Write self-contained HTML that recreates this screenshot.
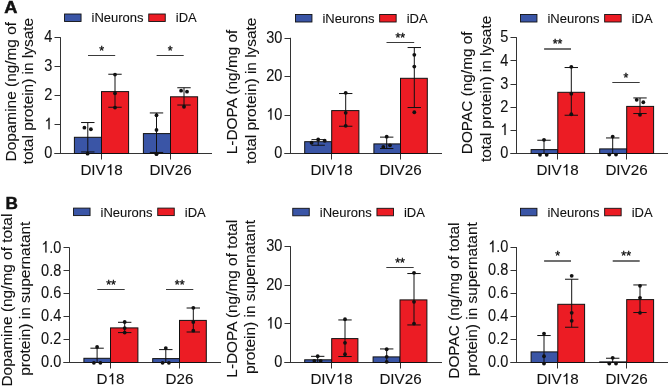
<!DOCTYPE html>
<html><head><meta charset="utf-8"><style>
html,body{margin:0;padding:0;background:#fff;width:669px;height:387px;overflow:hidden}
svg{display:block;will-change:transform}
text{font-family:"Liberation Sans",sans-serif;fill:#111;stroke:#111;stroke-width:0.1px}
</style></head><body>
<svg width="669" height="387" viewBox="0 0 669 387">
<rect width="669" height="387" fill="#fff"/>
<text transform="translate(4.3,12.5) scale(1.1,1)" font-size="16.6" font-weight="bold" style="stroke-width:0.5px">A</text>
<text x="5.4" y="208.7" font-size="17.2" font-weight="bold" style="stroke-width:0.45px">B</text>
<path d="M60.5 37.2V153.5M54.5 153.5H212.0" stroke="#333" fill="none"/>
<path d="M54.5 153.5H60.5" stroke="#333"/>
<text transform="translate(52.3,158.2) scale(0.97,1.08)" text-anchor="end" font-size="15">0</text>
<path d="M54.5 124.5H60.5" stroke="#333"/>
<text id="t1" transform="translate(52.3,129.25) scale(0.97,1.08)" text-anchor="end" font-size="15"> </text>
<g transform="translate(52.3,129.25) scale(0.97,1.08)"><path d="M-2.72 0.00L-4.04 0.00L-4.04 -8.33C-4.52 -7.91 -5.34 -7.46 -6.47 -7.17L-6.47 -8.18C-5.27 -8.58 -4.37 -9.38 -3.84 -10.74L-2.72 -10.74Z" fill="#111" stroke="#111" stroke-width="0.1"/></g>
<path d="M54.5 95.5H60.5" stroke="#333"/>
<text transform="translate(52.3,100.3) scale(0.97,1.08)" text-anchor="end" font-size="15">2</text>
<path d="M54.5 66.5H60.5" stroke="#333"/>
<text transform="translate(52.3,71.35000000000001) scale(0.97,1.08)" text-anchor="end" font-size="15">3</text>
<path d="M54.5 37.5H60.5" stroke="#333"/>
<text transform="translate(52.3,42.400000000000006) scale(0.97,1.08)" text-anchor="end" font-size="15">4</text>
<path d="M101.5 153.5V159.5" stroke="#333"/>
<text id="t5" x="101.5" y="175.2" text-anchor="middle" font-size="15.2">DIV 8</text>
<path d="M111.40 175.20L110.07 175.20L110.07 166.76C109.58 167.19 108.74 167.65 107.60 167.93L107.60 166.92C108.82 166.51 109.73 165.70 110.26 164.32L111.40 164.32Z" fill="#111" stroke="#111" stroke-width="0.1"/>
<path d="M170.5 153.5V159.5" stroke="#333"/>
<text x="170.5" y="175.2" text-anchor="middle" font-size="15.2">DIV26</text>
<text transform="translate(15.6,91.7) rotate(-90)" text-anchor="middle" font-size="15.4">Dopamine (ng/mg of</text>
<text transform="translate(33.3,91.1) rotate(-90)" text-anchor="middle" font-size="15.4">total protein) in lysate</text>
<rect x="64.55" y="14" width="16.5" height="7.5" fill="#3a55a6" stroke="#111" stroke-width="0.9"/>
<text x="91.55" y="22.4" font-size="13">iNeurons</text>
<rect x="148.75" y="14" width="16.5" height="7.5" fill="#ec1c24" stroke="#111" stroke-width="0.9"/>
<text x="175.75" y="22.4" font-size="13">iDA</text>
<rect x="74.4" y="137.29999999999998" width="27.099999999999994" height="16.200000000000017" fill="#3a55a6" stroke="#111" stroke-width="1"/>
<rect x="101.5" y="91.6" width="27.099999999999994" height="61.900000000000006" fill="#ec1c24" stroke="#111" stroke-width="1"/>
<rect x="143.4" y="133.6" width="27.099999999999994" height="19.900000000000006" fill="#3a55a6" stroke="#111" stroke-width="1"/>
<rect x="170.5" y="96.8" width="27.099999999999994" height="56.7" fill="#ec1c24" stroke="#111" stroke-width="1"/>
<path d="M87.8 122.53999999999999V151.94M81.1 122.53999999999999H94.5" stroke="#111"/>
<path d="M81.1 151.94H94.5" stroke="#111"/>
<path d="M115 74.24V107.24M108.3 74.24H121.7" stroke="#111"/>
<path d="M108.3 107.24H121.7" stroke="#111"/>
<path d="M156.5 112.94V152.44M149.8 112.94H163.2" stroke="#111"/>
<path d="M149.8 152.44H163.2" stroke="#111"/>
<path d="M184 87.74V105.03999999999999M177.3 87.74H190.7" stroke="#111"/>
<path d="M177.3 105.03999999999999H190.7" stroke="#111"/>
<circle cx="84.4" cy="127.64" r="1.9" fill="#111"/>
<circle cx="90.9" cy="129.23999999999998" r="1.9" fill="#111"/>
<circle cx="87.6" cy="153.64" r="1.9" fill="#111"/>
<circle cx="115" cy="74.54" r="1.9" fill="#111"/>
<circle cx="115" cy="93.24000000000001" r="1.9" fill="#111"/>
<circle cx="115" cy="107.54" r="1.9" fill="#111"/>
<circle cx="156.5" cy="115.24000000000001" r="1.9" fill="#111"/>
<circle cx="156.5" cy="129.94" r="1.9" fill="#111"/>
<circle cx="156.5" cy="154.14" r="1.9" fill="#111"/>
<circle cx="181.1" cy="90.64" r="1.9" fill="#111"/>
<circle cx="187" cy="91.64" r="1.9" fill="#111"/>
<circle cx="184" cy="106.74000000000001" r="1.9" fill="#111"/>
<path d="M88 55.5H115.2" stroke="#3a3a3a" stroke-width="1"/>
<text x="101.6" y="54.6" text-anchor="middle" font-size="12.4" style="stroke-width:0.35px">*</text>
<path d="M156.6 55.5H183.7" stroke="#3a3a3a" stroke-width="1"/>
<text x="170.14999999999998" y="54.6" text-anchor="middle" font-size="12.4" style="stroke-width:0.35px">*</text>
<path d="M290.5 37.80000000000001V153.5M284.5 153.5H442.0" stroke="#333" fill="none"/>
<path d="M284.5 153.5H290.5" stroke="#333"/>
<text transform="translate(282.3,158.2) scale(0.97,1.08)" text-anchor="end" font-size="15">0</text>
<path d="M284.5 115.5H290.5" stroke="#333"/>
<text id="t8" transform="translate(282.3,119.8) scale(0.97,1.08)" text-anchor="end" font-size="15"> 0</text>
<g transform="translate(282.3,119.8) scale(0.97,1.08)"><path d="M-11.04 0.00L-12.36 0.00L-12.36 -8.33C-12.84 -7.91 -13.67 -7.46 -14.79 -7.17L-14.79 -8.18C-13.59 -8.58 -12.69 -9.38 -12.17 -10.74L-11.04 -10.74Z" fill="#111" stroke="#111" stroke-width="0.1"/></g>
<path d="M284.5 76.5H290.5" stroke="#333"/>
<text transform="translate(282.3,81.4) scale(0.97,1.08)" text-anchor="end" font-size="15">20</text>
<path d="M284.5 38.5H290.5" stroke="#333"/>
<text transform="translate(282.3,43.000000000000014) scale(0.97,1.08)" text-anchor="end" font-size="15">30</text>
<path d="M331.5 153.5V159.5" stroke="#333"/>
<text id="t11" x="331.5" y="175.2" text-anchor="middle" font-size="15.2">DIV 8</text>
<path d="M341.40 175.20L340.07 175.20L340.07 166.76C339.58 167.19 338.74 167.65 337.60 167.93L337.60 166.92C338.82 166.51 339.73 165.70 340.26 164.32L341.40 164.32Z" fill="#111" stroke="#111" stroke-width="0.1"/>
<path d="M400.5 153.5V159.5" stroke="#333"/>
<text x="400.5" y="175.2" text-anchor="middle" font-size="15.2">DIV26</text>
<text transform="translate(237.2,91.9) rotate(-90)" text-anchor="middle" font-size="15.4">L-DOPA (ng/mg of</text>
<text transform="translate(255.6,90.8) rotate(-90)" text-anchor="middle" font-size="15.4">total protein) in lysate</text>
<rect x="295.45" y="14.5" width="16.5" height="7.5" fill="#3a55a6" stroke="#111" stroke-width="0.9"/>
<text x="322.45" y="22.9" font-size="13">iNeurons</text>
<rect x="379.65" y="14.5" width="16.5" height="7.5" fill="#ec1c24" stroke="#111" stroke-width="0.9"/>
<text x="406.65" y="22.9" font-size="13">iDA</text>
<rect x="304.7" y="141.7" width="27.0" height="11.800000000000011" fill="#3a55a6" stroke="#111" stroke-width="1"/>
<rect x="331.7" y="110.6" width="27.200000000000045" height="42.900000000000006" fill="#ec1c24" stroke="#111" stroke-width="1"/>
<rect x="373.9" y="143.9" width="26.600000000000023" height="9.599999999999994" fill="#3a55a6" stroke="#111" stroke-width="1"/>
<rect x="400.5" y="78.3" width="26.80000000000001" height="75.2" fill="#ec1c24" stroke="#111" stroke-width="1"/>
<path d="M318.2 139.64000000000001V145.24M311.5 139.64000000000001H324.9" stroke="#111"/>
<path d="M311.5 145.24H324.9" stroke="#111"/>
<path d="M345.7 93.53999999999999V126.24M339.0 93.53999999999999H352.4" stroke="#111"/>
<path d="M339.0 126.24H352.4" stroke="#111"/>
<path d="M386.7 137.14000000000001V148.54000000000002M380.0 137.14000000000001H393.4" stroke="#111"/>
<path d="M380.0 148.54000000000002H393.4" stroke="#111"/>
<path d="M414.3 47.54V107.53999999999999M407.6 47.54H421.0" stroke="#111"/>
<path d="M407.6 107.53999999999999H421.0" stroke="#111"/>
<circle cx="311.6" cy="142.73999999999998" r="1.9" fill="#111"/>
<circle cx="318.2" cy="139.44" r="1.9" fill="#111"/>
<circle cx="324.7" cy="140.73999999999998" r="1.9" fill="#111"/>
<circle cx="345.7" cy="92.84" r="1.9" fill="#111"/>
<circle cx="345.7" cy="112.84" r="1.9" fill="#111"/>
<circle cx="345.7" cy="125.84" r="1.9" fill="#111"/>
<circle cx="386.7" cy="136.64" r="1.9" fill="#111"/>
<circle cx="383.3" cy="146.94" r="1.9" fill="#111"/>
<circle cx="390" cy="145.34" r="1.9" fill="#111"/>
<circle cx="414.3" cy="54.839999999999996" r="1.9" fill="#111"/>
<circle cx="414.3" cy="66.54" r="1.9" fill="#111"/>
<circle cx="414.3" cy="112.24000000000001" r="1.9" fill="#111"/>
<path d="M386.5 42.5H414.2" stroke="#3a3a3a" stroke-width="1"/>
<text x="400.35" y="41.6" text-anchor="middle" font-size="12.4" style="stroke-width:0.35px">**</text>
<path d="M516.5 37.2V153.5M510.5 153.5H668.0" stroke="#333" fill="none"/>
<path d="M510.5 153.5H516.5" stroke="#333"/>
<text transform="translate(508.3,158.2) scale(0.97,1.08)" text-anchor="end" font-size="15">0</text>
<path d="M510.5 130.5H516.5" stroke="#333"/>
<text id="t14" transform="translate(508.3,135.04) scale(0.97,1.08)" text-anchor="end" font-size="15"> </text>
<g transform="translate(508.3,135.04) scale(0.97,1.08)"><path d="M-2.72 0.00L-4.04 0.00L-4.04 -8.33C-4.52 -7.91 -5.34 -7.46 -6.47 -7.17L-6.47 -8.18C-5.27 -8.58 -4.37 -9.38 -3.84 -10.74L-2.72 -10.74Z" fill="#111" stroke="#111" stroke-width="0.1"/></g>
<path d="M510.5 107.5H516.5" stroke="#333"/>
<text transform="translate(508.3,111.88000000000001) scale(0.97,1.08)" text-anchor="end" font-size="15">2</text>
<path d="M510.5 84.5H516.5" stroke="#333"/>
<text transform="translate(508.3,88.72) scale(0.97,1.08)" text-anchor="end" font-size="15">3</text>
<path d="M510.5 60.5H516.5" stroke="#333"/>
<text transform="translate(508.3,65.56) scale(0.97,1.08)" text-anchor="end" font-size="15">4</text>
<path d="M510.5 37.5H516.5" stroke="#333"/>
<text transform="translate(508.3,42.400000000000006) scale(0.97,1.08)" text-anchor="end" font-size="15">5</text>
<path d="M557.5 153.5V159.5" stroke="#333"/>
<text id="t19" x="557.5" y="175.2" text-anchor="middle" font-size="15.2">DIV 8</text>
<path d="M567.40 175.20L566.07 175.20L566.07 166.76C565.58 167.19 564.74 167.65 563.60 167.93L563.60 166.92C564.82 166.51 565.73 165.70 566.26 164.32L567.40 164.32Z" fill="#111" stroke="#111" stroke-width="0.1"/>
<path d="M626.5 153.5V159.5" stroke="#333"/>
<text x="626.5" y="175.2" text-anchor="middle" font-size="15.2">DIV26</text>
<text transform="translate(472,92.8) rotate(-90)" text-anchor="middle" font-size="15.4">DOPAC (ng/mg of</text>
<text transform="translate(490.6,88.9) rotate(-90)" text-anchor="middle" font-size="15.4">total protein) in lysate</text>
<rect x="520.45" y="14.5" width="16.5" height="7.5" fill="#3a55a6" stroke="#111" stroke-width="0.9"/>
<text x="547.45" y="22.9" font-size="13">iNeurons</text>
<rect x="604.6500000000001" y="14.5" width="16.5" height="7.5" fill="#ec1c24" stroke="#111" stroke-width="0.9"/>
<text x="631.6500000000001" y="22.9" font-size="13">iDA</text>
<rect x="531.1" y="149.6" width="26.699999999999932" height="3.9000000000000057" fill="#3a55a6" stroke="#111" stroke-width="1"/>
<rect x="557.8" y="92.3" width="26.800000000000068" height="61.2" fill="#ec1c24" stroke="#111" stroke-width="1"/>
<rect x="599.6999999999999" y="148.9" width="27.000000000000114" height="4.599999999999994" fill="#3a55a6" stroke="#111" stroke-width="1"/>
<rect x="626.7" y="106.39999999999999" width="26.899999999999977" height="47.10000000000001" fill="#ec1c24" stroke="#111" stroke-width="1"/>
<path d="M544 140.24V153.5M537.3 140.24H550.7" stroke="#111"/>
<path d="M571.3 67.53999999999999V115.24M564.5999999999999 67.53999999999999H578.0" stroke="#111"/>
<path d="M564.5999999999999 115.24H578.0" stroke="#111"/>
<path d="M612.7 137.94V153.5M606.0 137.94H619.4000000000001" stroke="#111"/>
<path d="M640 97.94V113.53999999999999M633.3 97.94H646.7" stroke="#111"/>
<path d="M633.3 113.53999999999999H646.7" stroke="#111"/>
<circle cx="544" cy="139.84" r="1.9" fill="#111"/>
<circle cx="540" cy="154.84" r="1.9" fill="#111"/>
<circle cx="546.7" cy="154.84" r="1.9" fill="#111"/>
<circle cx="571.3" cy="66.84" r="1.9" fill="#111"/>
<circle cx="571.3" cy="93.74000000000001" r="1.9" fill="#111"/>
<circle cx="571.3" cy="114.24000000000001" r="1.9" fill="#111"/>
<circle cx="612.7" cy="136.54" r="1.9" fill="#111"/>
<circle cx="609.3" cy="154.54" r="1.9" fill="#111"/>
<circle cx="616" cy="154.54" r="1.9" fill="#111"/>
<circle cx="636.7" cy="99.84" r="1.9" fill="#111"/>
<circle cx="643.3" cy="102.24000000000001" r="1.9" fill="#111"/>
<circle cx="640" cy="114.84" r="1.9" fill="#111"/>
<path d="M544.1 49H571" stroke="#1a1a1a" stroke-width="1.25"/>
<text x="557.55" y="48.1" text-anchor="middle" font-size="12.4" style="stroke-width:0.35px">**</text>
<path d="M612.3 82.5H639.7" stroke="#3a3a3a" stroke-width="1"/>
<text x="626.0" y="81.6" text-anchor="middle" font-size="12.4" style="stroke-width:0.35px">*</text>
<path d="M69.5 247.4V362.5M63.5 362.5H221.0" stroke="#333" fill="none"/>
<path d="M63.5 362.5H69.5" stroke="#333"/>
<text transform="translate(61.3,367.2) scale(0.97,1.08)" text-anchor="end" font-size="15">0.0</text>
<path d="M63.5 339.5H69.5" stroke="#333"/>
<text transform="translate(61.3,344.28) scale(0.97,1.08)" text-anchor="end" font-size="15">0.2</text>
<path d="M63.5 316.5H69.5" stroke="#333"/>
<text transform="translate(61.3,321.35999999999996) scale(0.97,1.08)" text-anchor="end" font-size="15">0.4</text>
<path d="M63.5 293.5H69.5" stroke="#333"/>
<text transform="translate(61.3,298.44) scale(0.97,1.08)" text-anchor="end" font-size="15">0.6</text>
<path d="M63.5 270.5H69.5" stroke="#333"/>
<text transform="translate(61.3,275.52) scale(0.97,1.08)" text-anchor="end" font-size="15">0.8</text>
<path d="M63.5 247.5H69.5" stroke="#333"/>
<text id="t26" transform="translate(61.3,252.6) scale(0.97,1.08)" text-anchor="end" font-size="15"> .0</text>
<g transform="translate(61.3,252.6) scale(0.97,1.08)"><path d="M-15.20 0.00L-16.52 0.00L-16.52 -8.33C-17.00 -7.91 -17.82 -7.46 -18.95 -7.17L-18.95 -8.18C-17.75 -8.58 -16.85 -9.38 -16.32 -10.74L-15.20 -10.74Z" fill="#111" stroke="#111" stroke-width="0.1"/></g>
<path d="M110.5 362.5V368.5" stroke="#333"/>
<text id="t27" x="110.5" y="384.2" text-anchor="middle" font-size="15.2">D 8</text>
<path d="M113.22 384.20L111.88 384.20L111.88 375.76C111.39 376.19 110.56 376.65 109.42 376.93L109.42 375.92C110.63 375.51 111.54 374.70 112.08 373.32L113.22 373.32Z" fill="#111" stroke="#111" stroke-width="0.1"/>
<path d="M179.5 362.5V368.5" stroke="#333"/>
<text x="179.5" y="384.2" text-anchor="middle" font-size="15.2">D26</text>
<text transform="translate(12.2,300.1) rotate(-90)" text-anchor="middle" font-size="15.4">Dopamine (ng/mg of total</text>
<text transform="translate(30,298.7) rotate(-90)" text-anchor="middle" font-size="15.4">protein) in supernatant</text>
<rect x="73.55" y="208.1" width="16.5" height="7.5" fill="#3a55a6" stroke="#111" stroke-width="0.9"/>
<text x="100.55" y="216.5" font-size="13">iNeurons</text>
<rect x="157.75" y="208.1" width="16.5" height="7.5" fill="#ec1c24" stroke="#111" stroke-width="0.9"/>
<text x="184.75" y="216.5" font-size="13">iDA</text>
<rect x="83.9" y="358.3" width="26.599999999999994" height="4.199999999999989" fill="#3a55a6" stroke="#111" stroke-width="1"/>
<rect x="110.5" y="327.9" width="27.400000000000006" height="34.60000000000002" fill="#ec1c24" stroke="#111" stroke-width="1"/>
<rect x="152.70000000000002" y="358.6" width="26.799999999999983" height="3.8999999999999773" fill="#3a55a6" stroke="#111" stroke-width="1"/>
<rect x="179.5" y="320.4" width="26.799999999999983" height="42.10000000000002" fill="#ec1c24" stroke="#111" stroke-width="1"/>
<path d="M97.1 348.2V362.5M90.39999999999999 348.2H103.8" stroke="#111"/>
<path d="M124.7 322.3V332.6M118.0 322.3H131.4" stroke="#111"/>
<path d="M118.0 332.6H131.4" stroke="#111"/>
<path d="M165.8 349.6V362.5M159.10000000000002 349.6H172.5" stroke="#111"/>
<path d="M193.3 308.0V332.0M186.60000000000002 308.0H200.0" stroke="#111"/>
<path d="M186.60000000000002 332.0H200.0" stroke="#111"/>
<circle cx="97.1" cy="346.9" r="1.9" fill="#111"/>
<circle cx="93.9" cy="362.8" r="1.9" fill="#111"/>
<circle cx="100.4" cy="362.8" r="1.9" fill="#111"/>
<circle cx="124.7" cy="322.0" r="1.9" fill="#111"/>
<circle cx="124.7" cy="328.1" r="1.9" fill="#111"/>
<circle cx="124.7" cy="332.6" r="1.9" fill="#111"/>
<circle cx="165.8" cy="348.1" r="1.9" fill="#111"/>
<circle cx="162.6" cy="362.8" r="1.9" fill="#111"/>
<circle cx="168.9" cy="362.8" r="1.9" fill="#111"/>
<circle cx="193.3" cy="307.8" r="1.9" fill="#111"/>
<circle cx="193.3" cy="322.0" r="1.9" fill="#111"/>
<circle cx="193.3" cy="330.7" r="1.9" fill="#111"/>
<path d="M97.3 289.5H124.7" stroke="#3a3a3a" stroke-width="1"/>
<text x="111.0" y="288.6" text-anchor="middle" font-size="12.4" style="stroke-width:0.35px">**</text>
<path d="M166 289.5H193.3" stroke="#3a3a3a" stroke-width="1"/>
<text x="179.65" y="288.6" text-anchor="middle" font-size="12.4" style="stroke-width:0.35px">**</text>
<path d="M290.5 246.2V362.5M284.5 362.5H442.0" stroke="#333" fill="none"/>
<path d="M284.5 362.5H290.5" stroke="#333"/>
<text transform="translate(282.3,367.2) scale(0.97,1.08)" text-anchor="end" font-size="15">0</text>
<path d="M284.5 323.5H290.5" stroke="#333"/>
<text id="t30" transform="translate(282.3,328.59999999999997) scale(0.97,1.08)" text-anchor="end" font-size="15"> 0</text>
<g transform="translate(282.3,328.59999999999997) scale(0.97,1.08)"><path d="M-11.04 0.00L-12.36 0.00L-12.36 -8.33C-12.84 -7.91 -13.67 -7.46 -14.79 -7.17L-14.79 -8.18C-13.59 -8.58 -12.69 -9.38 -12.17 -10.74L-11.04 -10.74Z" fill="#111" stroke="#111" stroke-width="0.1"/></g>
<path d="M284.5 285.5H290.5" stroke="#333"/>
<text transform="translate(282.3,290.0) scale(0.97,1.08)" text-anchor="end" font-size="15">20</text>
<path d="M284.5 246.5H290.5" stroke="#333"/>
<text transform="translate(282.3,251.39999999999998) scale(0.97,1.08)" text-anchor="end" font-size="15">30</text>
<path d="M331.5 362.5V368.5" stroke="#333"/>
<text id="t33" x="331.5" y="384.2" text-anchor="middle" font-size="15.2">DIV 8</text>
<path d="M341.40 384.20L340.07 384.20L340.07 375.76C339.58 376.19 338.74 376.65 337.60 376.93L337.60 375.92C338.82 375.51 339.73 374.70 340.26 373.32L341.40 373.32Z" fill="#111" stroke="#111" stroke-width="0.1"/>
<path d="M400.5 362.5V368.5" stroke="#333"/>
<text x="400.5" y="384.2" text-anchor="middle" font-size="15.2">DIV26</text>
<text transform="translate(237.2,298.7) rotate(-90)" text-anchor="middle" font-size="15.4">L-DOPA (ng/mg of total</text>
<text transform="translate(255.3,297) rotate(-90)" text-anchor="middle" font-size="15.4">protein) in supernatant</text>
<rect x="292.75" y="208.3" width="16.5" height="7.5" fill="#3a55a6" stroke="#111" stroke-width="0.9"/>
<text x="319.75" y="216.70000000000002" font-size="13">iNeurons</text>
<rect x="376.95" y="208.3" width="16.5" height="7.5" fill="#ec1c24" stroke="#111" stroke-width="0.9"/>
<text x="403.95" y="216.70000000000002" font-size="13">iDA</text>
<rect x="304.7" y="359.8" width="27.0" height="2.6999999999999886" fill="#3a55a6" stroke="#111" stroke-width="1"/>
<rect x="331.7" y="338.6" width="26.200000000000045" height="23.899999999999977" fill="#ec1c24" stroke="#111" stroke-width="1"/>
<rect x="373.09999999999997" y="356.90000000000003" width="26.900000000000034" height="5.599999999999966" fill="#3a55a6" stroke="#111" stroke-width="1"/>
<rect x="400" y="299.90000000000003" width="26.900000000000034" height="62.599999999999966" fill="#ec1c24" stroke="#111" stroke-width="1"/>
<path d="M317.7 356.34000000000003V362.5M311.0 356.34000000000003H324.4" stroke="#111"/>
<path d="M345 319.94V356.54M338.3 319.94H351.7" stroke="#111"/>
<path d="M338.3 356.54H351.7" stroke="#111"/>
<path d="M386.7 348.94V362.5M380.0 348.94H393.4" stroke="#111"/>
<path d="M414 273.54V324.94M407.3 273.54H420.7" stroke="#111"/>
<path d="M407.3 324.94H420.7" stroke="#111"/>
<circle cx="317.7" cy="356.14000000000004" r="1.9" fill="#111"/>
<circle cx="314.3" cy="360.84000000000003" r="1.9" fill="#111"/>
<circle cx="320.7" cy="360.84000000000003" r="1.9" fill="#111"/>
<circle cx="345" cy="319.24" r="1.9" fill="#111"/>
<circle cx="345" cy="342.84000000000003" r="1.9" fill="#111"/>
<circle cx="345" cy="354.24" r="1.9" fill="#111"/>
<circle cx="386.7" cy="349.24" r="1.9" fill="#111"/>
<circle cx="386.7" cy="356.84000000000003" r="1.9" fill="#111"/>
<circle cx="386.7" cy="361.84000000000003" r="1.9" fill="#111"/>
<circle cx="414" cy="272.84000000000003" r="1.9" fill="#111"/>
<circle cx="414" cy="301.84000000000003" r="1.9" fill="#111"/>
<circle cx="414" cy="323.54" r="1.9" fill="#111"/>
<path d="M386.3 267.5H413.7" stroke="#3a3a3a" stroke-width="1"/>
<text x="400.0" y="266.6" text-anchor="middle" font-size="12.4" style="stroke-width:0.35px">**</text>
<path d="M516.5 247.0V362.5M510.5 362.5H668.0" stroke="#333" fill="none"/>
<path d="M510.5 362.5H516.5" stroke="#333"/>
<text transform="translate(508.3,367.2) scale(0.97,1.08)" text-anchor="end" font-size="15">0.0</text>
<path d="M510.5 339.5H516.5" stroke="#333"/>
<text transform="translate(508.3,344.2) scale(0.97,1.08)" text-anchor="end" font-size="15">0.2</text>
<path d="M510.5 316.5H516.5" stroke="#333"/>
<text transform="translate(508.3,321.2) scale(0.97,1.08)" text-anchor="end" font-size="15">0.4</text>
<path d="M510.5 293.5H516.5" stroke="#333"/>
<text transform="translate(508.3,298.2) scale(0.97,1.08)" text-anchor="end" font-size="15">0.6</text>
<path d="M510.5 270.5H516.5" stroke="#333"/>
<text transform="translate(508.3,275.2) scale(0.97,1.08)" text-anchor="end" font-size="15">0.8</text>
<path d="M510.5 247.5H516.5" stroke="#333"/>
<text id="t40" transform="translate(508.3,252.2) scale(0.97,1.08)" text-anchor="end" font-size="15"> .0</text>
<g transform="translate(508.3,252.2) scale(0.97,1.08)"><path d="M-15.20 0.00L-16.52 0.00L-16.52 -8.33C-17.00 -7.91 -17.82 -7.46 -18.95 -7.17L-18.95 -8.18C-17.75 -8.58 -16.85 -9.38 -16.32 -10.74L-15.20 -10.74Z" fill="#111" stroke="#111" stroke-width="0.1"/></g>
<path d="M557.5 362.5V368.5" stroke="#333"/>
<text id="t41" x="557.5" y="384.2" text-anchor="middle" font-size="15.2">DIV 8</text>
<path d="M567.40 384.20L566.07 384.20L566.07 375.76C565.58 376.19 564.74 376.65 563.60 376.93L563.60 375.92C564.82 375.51 565.73 374.70 566.26 373.32L567.40 373.32Z" fill="#111" stroke="#111" stroke-width="0.1"/>
<path d="M626.5 362.5V368.5" stroke="#333"/>
<text x="626.5" y="384.2" text-anchor="middle" font-size="15.2">DIV26</text>
<text transform="translate(458.5,300.6) rotate(-90)" text-anchor="middle" font-size="15.4">DOPAC (ng/mg of total</text>
<text transform="translate(477.2,299.25) rotate(-90)" text-anchor="middle" font-size="15.4">protein) in supernatant</text>
<rect x="520.45" y="208.3" width="16.5" height="7.5" fill="#3a55a6" stroke="#111" stroke-width="0.9"/>
<text x="547.45" y="216.70000000000002" font-size="13">iNeurons</text>
<rect x="604.6500000000001" y="208.3" width="16.5" height="7.5" fill="#ec1c24" stroke="#111" stroke-width="0.9"/>
<text x="631.6500000000001" y="216.70000000000002" font-size="13">iDA</text>
<rect x="531.1" y="351.90000000000003" width="26.699999999999932" height="10.599999999999966" fill="#3a55a6" stroke="#111" stroke-width="1"/>
<rect x="557.8" y="304.3" width="26.800000000000068" height="58.19999999999999" fill="#ec1c24" stroke="#111" stroke-width="1"/>
<rect x="599.6999999999999" y="361.90000000000003" width="27.000000000000114" height="0.5999999999999659" fill="#3a55a6" stroke="#111" stroke-width="1"/>
<rect x="626.7" y="299.6" width="26.899999999999977" height="62.89999999999998" fill="#ec1c24" stroke="#111" stroke-width="1"/>
<path d="M544 335.54V362.5M537.3 335.54H550.7" stroke="#111"/>
<path d="M571.7 279.24V327.24M565.0 279.24H578.4000000000001" stroke="#111"/>
<path d="M565.0 327.24H578.4000000000001" stroke="#111"/>
<path d="M612.7 358.24V362.5M606.0 358.24H619.4000000000001" stroke="#111"/>
<path d="M640 284.94V312.54M633.3 284.94H646.7" stroke="#111"/>
<path d="M633.3 312.54H646.7" stroke="#111"/>
<circle cx="544" cy="333.54" r="1.9" fill="#111"/>
<circle cx="544" cy="356.24" r="1.9" fill="#111"/>
<circle cx="544" cy="363.54" r="1.9" fill="#111"/>
<circle cx="571.7" cy="275.84000000000003" r="1.9" fill="#111"/>
<circle cx="571.7" cy="312.84000000000003" r="1.9" fill="#111"/>
<circle cx="571.7" cy="320.84000000000003" r="1.9" fill="#111"/>
<circle cx="612.7" cy="357.84000000000003" r="1.9" fill="#111"/>
<circle cx="609.3" cy="363.54" r="1.9" fill="#111"/>
<circle cx="616" cy="363.54" r="1.9" fill="#111"/>
<circle cx="640" cy="285.84000000000003" r="1.9" fill="#111"/>
<circle cx="640" cy="297.84000000000003" r="1.9" fill="#111"/>
<circle cx="640" cy="312.84000000000003" r="1.9" fill="#111"/>
<path d="M544.1 261H571" stroke="#1a1a1a" stroke-width="1.25"/>
<text x="557.55" y="260.1" text-anchor="middle" font-size="12.4" style="stroke-width:0.35px">*</text>
<path d="M612.7 261H639.7" stroke="#1a1a1a" stroke-width="1.25"/>
<text x="626.2" y="260.1" text-anchor="middle" font-size="12.4" style="stroke-width:0.35px">**</text>
</svg>
</body></html>
